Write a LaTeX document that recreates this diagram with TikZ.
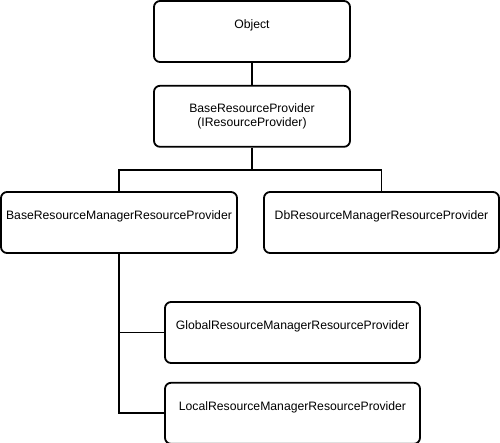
\documentclass[tikz,border=0pt]{standalone}
\usepackage{fontspec}
\setmainfont{Liberation Sans}
\usetikzlibrary{positioning,calc}
\tikzset{
	classbox/.style={rectangle, draw=black, rounded corners=6pt, line width=1.8pt,
		minimum height=61pt, align=center, font=\fontsize{12.2}{14}\selectfont, inner xsep=2pt},
	linkline/.style={line width=1.8pt}
}

\begin{document}
\begin{tikzpicture}[x=1pt,y=1pt,node distance=22pt]
			\useasboundingbox (0,0) rectangle (500,-442);
			\node[classbox, minimum width=196pt] (obj) at (252,-31.5) {Object\\\mbox{}};
			\node[classbox, minimum width=196pt, below=of obj] (brp) {BaseResourceProvider\\(IResourceProvider)};
			\node[classbox, minimum width=236pt] (brm) at (119,-222.5) {BaseResourceManagerResourceProvider\\\mbox{}};
			\node[classbox, minimum width=235pt] (dbm) at (381.5,-222.5) {DbResourceManagerResourceProvider\\\mbox{}};
			\node[classbox, minimum width=255pt] (glb) at (292.5,-332.5) {GlobalResourceManagerResourceProvider\\\mbox{}};
			\node[classbox, minimum width=255pt, below=18pt of glb] (loc) {LocalResourceManagerResourceProvider\\\mbox{}};
			\draw[linkline] (obj) -- (brp);
			\draw[linkline] (brp.south) -- ++(0,-22) coordinate (split);
			\draw[linkline] (brm.north) |- (split) -| (dbm.north);
			\draw[linkline] (brm.south) |- (loc.west);
			\draw[linkline] (glb.west) -- (glb.west -| brm.south);
		\end{tikzpicture}
\end{document}
